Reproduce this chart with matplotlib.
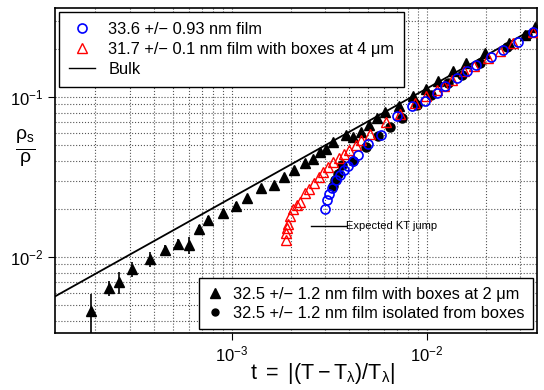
import numpy as np
import matplotlib
matplotlib.use("Agg")
import matplotlib.pyplot as plt
from matplotlib.lines import Line2D

plt.rcParams['font.family'] = ['Liberation Sans', 'DejaVu Sans']
plt.rcParams['mathtext.fontset'] = 'custom'
plt.rcParams['mathtext.rm'] = 'Liberation Sans'
plt.rcParams['mathtext.it'] = 'Liberation Sans'
plt.rcParams['mathtext.sf'] = 'Liberation Sans'

# 33.6 nm film (open blue circles)
t_blue = [3.00e-3, 3.07e-3, 3.14e-3, 3.26e-3, 3.41e-3, 3.58e-3, 3.75e-3, 3.93e-3,
          4.17e-3, 4.43e-3, 4.98e-3, 5.81e-3, 7.02e-3, 8.38e-3, 9.77e-3, 1.12e-2,
          1.24e-2, 1.43e-2, 1.60e-2, 1.78e-2, 2.13e-2, 2.45e-2, 2.93e-2, 3.50e-2]
rho_blue = [2.00e-2, 2.27e-2, 2.48e-2, 2.70e-2, 3.03e-2, 3.25e-2, 3.50e-2, 3.71e-2,
            3.98e-2, 4.34e-2, 5.08e-2, 5.79e-2, 7.61e-2, 8.79e-2, 9.44e-2, 0.106,
            0.117, 0.131, 0.145, 0.158, 0.178, 0.197, 0.221, 0.255]

# 31.7 nm film with boxes at 4 um (open red triangles)
t_red = [1.89e-3, 1.89e-3, 1.91e-3, 1.94e-3, 1.98e-3, 2.05e-3, 2.15e-3, 2.23e-3,
         2.37e-3, 2.48e-3, 2.63e-3, 2.79e-3, 2.93e-3, 3.11e-3, 3.30e-3, 3.54e-3,
         3.75e-3, 3.98e-3, 4.32e-3, 4.59e-3, 5.10e-3, 6.16e-3, 7.27e-3, 8.67e-3,
         9.89e-3, 1.12e-2, 1.22e-2, 1.34e-2, 1.55e-2, 1.74e-2, 2.06e-2, 2.37e-2,
         2.76e-2, 3.50e-2]
rho_red = [1.28e-2, 1.41e-2, 1.52e-2, 1.61e-2, 1.80e-2, 2.00e-2, 2.11e-2, 2.21e-2,
           2.51e-2, 2.66e-2, 2.90e-2, 3.16e-2, 3.40e-2, 3.65e-2, 3.93e-2, 4.16e-2,
           4.40e-2, 4.66e-2, 5.01e-2, 5.39e-2, 5.87e-2, 6.98e-2, 7.83e-2, 9.17e-2,
           0.1014, 0.111, 0.117, 0.128, 0.145, 0.156, 0.175, 0.194,
           0.218, 0.255]

# 32.5 nm film with boxes at 2 um (filled black triangles, with error bars)
t_tri = [1.89e-4, 2.34e-4, 2.63e-4, 3.07e-4, 3.80e-4, 4.53e-4, 5.29e-4, 6.02e-4,
         6.77e-4, 7.53e-4, 8.99e-4, 1.05e-3, 1.19e-3, 1.41e-3, 1.64e-3, 1.85e-3,
         2.08e-3, 2.37e-3, 2.60e-3, 2.83e-3, 3.03e-3, 3.30e-3, 3.84e-3, 4.17e-3,
         4.59e-3, 5.04e-3, 5.54e-3, 6.09e-3, 7.18e-3, 8.47e-3, 9.89e-3, 1.14e-2,
         1.36e-2, 1.58e-2, 1.98e-2, 2.63e-2, 3.18e-2, 3.58e-2]
rho_tri = [4.60e-3, 6.40e-3, 6.98e-3, 8.41e-3, 9.72e-3, 1.106e-2, 1.21e-2, 1.19e-2,
           1.50e-2, 1.70e-2, 1.88e-2, 2.08e-2, 2.34e-2, 2.70e-2, 2.82e-2, 3.16e-2,
           3.50e-2, 3.87e-2, 4.10e-2, 4.53e-2, 4.73e-2, 5.23e-2, 5.79e-2, 5.62e-2,
           6.04e-2, 6.68e-2, 7.39e-2, 8.06e-2, 8.79e-2, 0.1014, 0.112, 0.126,
           0.145, 0.163, 0.188, 0.218, 0.244, 0.274]
err_tri = [1.3e-3, 0.7e-3, 1.1e-3, 0.9e-3, 1.0e-3, 0.8e-3, 0.9e-3, 1.4e-3,
           0.9e-3, 1.0e-3, 1.2e-3, 1.3e-3, 1.2e-3, 1.0e-3, 1.0e-3, 1.2e-3,
           1.2e-3, 1.5e-3, 2.0e-3, 1.5e-3, 1.5e-3, 1.5e-3, 1.5e-3, 1.5e-3,
           1.5e-3, 1.5e-3, 1.5e-3, 1.5e-3, 1.5e-3, 1.5e-3, 1.5e-3, 1.5e-3,
           1.5e-3, 1.5e-3, 1.5e-3, 1.5e-3, 1.5e-3, 1.5e-3]

# 32.5 nm film isolated from boxes (filled black circles, with error bars)
t_dot = [3.30e-3, 3.37e-3, 3.50e-3, 3.66e-3, 4.17e-3, 4.86e-3, 5.61e-3, 6.46e-3,
         7.45e-3, 8.89e-3, 1.05e-2, 1.28e-2, 1.51e-2, 1.87e-2, 2.57e-2, 3.26e-2]
rho_dot = [2.78e-2, 3.03e-2, 3.30e-2, 3.76e-2, 3.98e-2, 4.87e-2, 5.71e-2, 6.50e-2,
           7.39e-2, 8.91e-2, 0.1029, 0.122, 0.137, 0.163, 0.205, 0.244]
err_dot = [2.5e-3, 2.5e-3, 2.5e-3, 2.5e-3, 2.5e-3, 2.0e-3, 1.5e-3, 1.5e-3,
           1.5e-3, 1.5e-3, 1.5e-3, 1.5e-3, 1.5e-3, 1.5e-3, 1.5e-3, 1.5e-3]

# bulk curve end points (straight line on log-log axes)
t_bulk = [1.0e-4, 4.0e-2]
rho_bulk = [4.9e-3, 0.292]

# expected KT jump marker
t_kt = [2.54e-3, 3.84e-3]
rho_kt = [1.56e-2, 1.56e-2]

fig = plt.figure(figsize=(5.44, 3.90), dpi=100)
ax = fig.add_axes([0.101, 0.146, 0.886, 0.833])
ax.set_xscale('log')
ax.set_yscale('log')

ax.grid(True, which='both', linestyle=':', color='#555555', linewidth=0.8)
ax.set_axisbelow(True)

ax.plot(t_bulk, rho_bulk, color='black', linewidth=1.3, zorder=2)
ax.errorbar(t_tri, rho_tri, yerr=err_tri, fmt='^', color='black', ms=7,
            elinewidth=1.2, capsize=0, zorder=3)
ax.errorbar(t_dot, rho_dot, yerr=err_dot, fmt='o', color='black', ms=6.5,
            elinewidth=1.2, capsize=0, zorder=4)
ax.plot(t_red, rho_red, '^', mfc='none', mec='red', ms=7.5, mew=1.0, zorder=5)
ax.plot(t_blue, rho_blue, 'o', mfc='none', mec='blue', ms=6.5, mew=1.2, zorder=5)

ax.plot(t_kt, rho_kt, color='black', linewidth=1.0, zorder=2)
ax.text(t_kt[1], rho_kt[0], 'Expected KT jump', fontsize=8, va='center', ha='left')

ax.set_xlim(1.24e-4, 3.66e-2)
ax.set_ylim(3.35e-3, 0.36)

ax.tick_params(which='major', direction='out', length=5, labelsize=12)
ax.tick_params(which='minor', length=0)
ax.set_xticks([1e-3, 1e-2])
ax.set_yticks([1e-2, 1e-1])
for sp in ax.spines.values():
    sp.set_linewidth(1.2)

ax.set_xlabel(r'$\mathrm{t\ =\ \left|(T-T_{\lambda})/T_{\lambda}\right|}$',
              fontsize=15.5, labelpad=4)
ax.xaxis.set_label_coords(0.556, -0.085, transform=ax.transAxes)
ax.set_ylabel(r'$\frac{\mathrm{\rho_s}}{\mathrm{\rho}}$', fontsize=20,
              rotation=0, labelpad=14, va='center')
ax.yaxis.set_label_coords(-0.062, 0.57)

h1 = [Line2D([], [], marker='o', ls='none', mfc='none', mec='blue', ms=6.5, mew=1.2),
      Line2D([], [], marker='^', ls='none', mfc='none', mec='red', ms=7.5, mew=1.0),
      Line2D([], [], color='black', lw=1.0)]
l1 = ax.legend(h1, ['33.6 +/\u2212 0.93 nm film',
                    '31.7 +/\u2212 0.1 nm film with boxes at 4 \u03bcm', 'Bulk'],
               loc='upper left', fontsize=11.8, frameon=True, fancybox=False,
               edgecolor='black', framealpha=1, borderaxespad=0.25,
               labelspacing=0.3, handlelength=1.6, handletextpad=0.8,
               borderpad=0.6)
l1.get_frame().set_linewidth(1.0)
ax.add_artist(l1)

h2 = [Line2D([], [], marker='^', ls='none', color='black', ms=7),
      Line2D([], [], marker='o', ls='none', color='black', ms=5)]
l2 = ax.legend(h2, ['32.5 +/\u2212 1.2 nm film with boxes at 2 \u03bcm',
                    '32.5 +/\u2212 1.2 nm film isolated from boxes'],
               loc='lower right', fontsize=11.8, frameon=True, fancybox=False,
               edgecolor='black', framealpha=1, borderaxespad=0.25,
               labelspacing=0.25, handlelength=1.0, handletextpad=0.6,
               borderpad=0.5)
l2.get_frame().set_linewidth(1.0)

fig.savefig('out.png', dpi=100)
